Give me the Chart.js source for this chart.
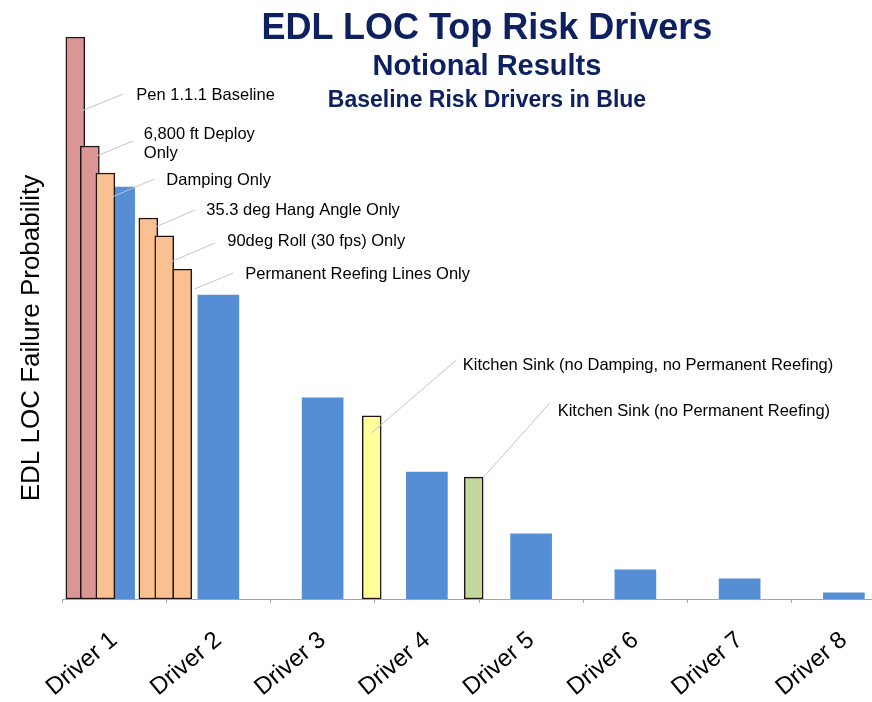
<!DOCTYPE html>
<html>
<head>
<meta charset="utf-8">
<title>EDL LOC Top Risk Drivers</title>
<script src="https://cdn.jsdelivr.net/npm/chart.js@4.4.0/dist/chart.umd.min.js"></script>
<style>
    html, body { margin: 0; padding: 0; background: #fff; overflow: hidden; }
    #wrap { position: relative; width: 872px; height: 702px; overflow: hidden; }
    #chart { position: absolute; left: 0; top: 0; }
    .title {
        position: absolute;
        left: 487px;
        transform: translateX(-50%);
        white-space: nowrap;
        font-family: "Liberation Sans", Arial, sans-serif;
        font-weight: bold;
        color: #0d2160;
        line-height: 1;
    }
    #t1 { top: 9px; font-size: 36px; }
    #t2 { top: 51px; font-size: 29px; }
    #t3 { top: 88px; font-size: 23px; }
</style>
</head>
<body>
<div id="wrap">
    <canvas id="chart" width="896" height="702"></canvas>
    <div class="title" id="t1">EDL LOC Top Risk Drivers</div>
    <div class="title" id="t2">Notional Results</div>
    <div class="title" id="t3">Baseline Risk Drivers in Blue</div>
</div>
<script>
// Категории и значения (условные, 100 = высота самого высокого столбца)
const drivers = ['Driver 1', 'Driver 2', 'Driver 3', 'Driver 4', 'Driver 5', 'Driver 6', 'Driver 7', 'Driver 8'];
const baselineRisk = [73.3, 54.1, 35.8, 22.6, 11.6, 5.2, 3.6, 1.1];

const scenarioLabels = [
    ['Pen 1.1.1 Baseline'],
    ['6,800 ft Deploy', 'Only'],
    ['Damping Only'],
    ['35.3 deg Hang Angle Only'],
    ['90deg Roll (30 fps) Only'],
    ['Permanent Reefing Lines Only'],
    ['Kitchen Sink (no Damping, no Permanent Reefing)'],
    ['Kitchen Sink (no Permanent Reefing)']
];
const scenarioRisk = [100, 80.6, 75.8, 67.8, 64.6, 58.7, 32.6, 21.7];

// Оформление
const BLUE = '#558ed5';
const PINK = '#d99694';
const ORANGE = '#fac090';
const YELLOW = '#ffff99';
const GREEN = '#c3d69b';
const scenarioColors = [PINK, PINK, ORANGE, ORANGE, ORANGE, ORANGE, YELLOW, GREEN];

// Положение столбцов сценариев по оси категорий (Driver 1 = 0)
const scenarioSlots = [-0.372, -0.233, -0.084, 0.328, 0.481, 0.654, 2.471, 3.449];

// Выноски: смещения от верха столбца (линия from -> to, текст)
const callouts = [
    { from: [6, 74],  to: [48, 57],   text: [61, 58] },
    { from: [7, 10],  to: [43, -5],   text: [54, -12] },
    { from: [2, 26],  to: [49, 6],    text: [61, 7] },
    { from: [0, 12],  to: [47, -8],   text: [58, -8] },
    { from: [4, 27],  to: [51, 7],    text: [63, 6] },
    { from: [12, 20], to: [51, 4],    text: [63, 5] },
    { from: [0, 17],  to: [85, -56],  text: [91, -50] },
    { from: [10, 0],  to: [76, -74],  text: [84, -66] }
];

const FONT = '"Liberation Sans", Arial, sans-serif';

// Плагин: выноски и подпись оси Y
const calloutPlugin = {
    id: 'callouts',
    afterDatasetsDraw(chart) {
        const ctx = chart.ctx;
        const meta = chart.getDatasetMeta(1);
        ctx.save();
        ctx.strokeStyle = '#c4c4c4';
        ctx.lineWidth = 1;
        ctx.fillStyle = '#000';
        ctx.font = '16.5px ' + FONT;
        ctx.textBaseline = 'middle';
        ctx.textAlign = 'left';
        meta.data.forEach((bar, i) => {
            const c = callouts[i];
            ctx.beginPath();
            ctx.moveTo(bar.x + c.from[0], bar.y + c.from[1]);
            ctx.lineTo(bar.x + c.to[0], bar.y + c.to[1]);
            ctx.stroke();
            scenarioLabels[i].forEach((line, k) => {
                ctx.fillText(line, bar.x + c.text[0], bar.y + c.text[1] + k * 19);
            });
        });

        const area = chart.chartArea;
        ctx.translate(area.left - 23, area.bottom - 261);
        ctx.rotate(-Math.PI / 2);
        ctx.textAlign = 'center';
        ctx.textBaseline = 'alphabetic';
        ctx.font = '26px ' + FONT;
        ctx.fillText('EDL LOC Failure Probability', 0, 0);
        ctx.restore();
    }
};

const chart = new Chart(document.getElementById('chart'), {
    type: 'bar',
    data: {
        labels: drivers,
        datasets: [
            {
                label: 'Baseline',
                data: baselineRisk,
                backgroundColor: BLUE,
                borderWidth: 0,
                barThickness: 41,
                grouped: false,
                xAxisID: 'x',
                order: 2
            },
            {
                label: 'Scenarios',
                data: scenarioRisk.map((v, i) => ({ x: scenarioSlots[i], y: v })),
                backgroundColor: scenarioColors,
                borderColor: '#1e1414',
                borderWidth: 1.5,
                borderSkipped: false,
                barThickness: 19,
                grouped: false,
                xAxisID: 'xs',
                order: 1
            }
        ]
    },
    options: {
        responsive: false,
        animation: false,
        layout: { padding: { left: 62, top: 37, right: 0, bottom: 0 } },
        plugins: {
            legend: { display: false },
            tooltip: { enabled: false },
            title: { display: false }
        },
        scales: {
            x: {
                type: 'category',
                offset: true,
                border: { color: '#a6a6a6', width: 1 },
                grid: {
                    offset: true,
                    drawOnChartArea: false,
                    drawTicks: true,
                    tickLength: 4,
                    color: '#a6a6a6'
                },
                ticks: {
                    minRotation: 40,
                    maxRotation: 40,
                    padding: 23,
                    color: '#000',
                    font: { family: FONT, size: 24 }
                },
                afterFit: (scale) => { scale.height = 103; }
            },
            xs: {
                type: 'linear',
                display: false,
                offset: false,
                min: -0.5,
                max: 7.5
            },
            y: {
                display: false,
                min: 0,
                max: 100
            }
        }
    },
    plugins: [calloutPlugin]
});
</script>
</body>
</html>
